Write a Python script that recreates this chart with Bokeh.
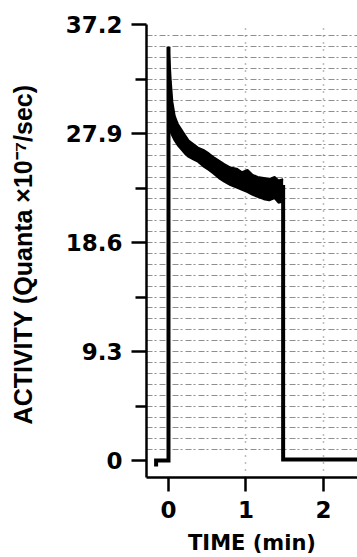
from bokeh.plotting import figure
from bokeh.models import FixedTicker, Range1d
from bokeh.embed import file_html
from bokeh.resources import INLINE

# ---- axis data ----
y_ticks = [0, 9.3, 18.6, 27.9, 37.2]
y_tick_labels = ["0", "9.3", "18.6", "27.9", "37.2"]
y_minor_ticks = [4.65, 13.95, 23.25, 32.55]
x_ticks = [0, 1, 2]
grid_step = 0.93
grid_count = 39
x_grid_ticks = [1, 2]

# ---- trace data (TIME in min, ACTIVITY) ----
pre_t = [-0.16, -0.16, 0.0, 0.0]
pre_v = [-0.5, 0.0, 0.0, 35.3]

band_t = [0.000, 0.015, 0.03, 0.05, 0.08, 0.12, 0.16, 0.21, 0.26, 0.32, 0.38,
          0.45, 0.52, 0.58, 0.65, 0.72, 0.80, 0.88, 0.95, 1.02, 1.08, 1.15,
          1.23, 1.30, 1.37, 1.42, 1.48]
band_upper = [35.3, 34.0, 32.3, 30.6, 29.4, 28.7, 28.3, 27.8, 27.3, 27.0, 26.7,
              26.5, 26.2, 25.9, 25.6, 25.3, 25.0, 24.9, 24.6, 24.8, 24.4, 24.2,
              24.1, 24.0, 24.2, 23.9, 24.0]
band_lower = [28.5, 28.3, 28.0, 27.7, 27.3, 26.9, 26.6, 26.2, 25.9, 25.7, 25.5,
              25.1, 24.8, 24.5, 24.1, 23.8, 23.5, 23.3, 23.1, 22.9, 22.7, 22.5,
              22.3, 22.2, 22.4, 22.0, 22.1]

post_t = [1.48, 1.48, 2.6]
post_v = [23.5, 0.1, 0.1]

y_lo, y_hi = -1.44, 37.2
x_lo, x_hi = -0.284, 2.44

p = figure(width=357, height=557, output_backend="svg", toolbar_location=None,
           x_range=Range1d(x_lo, x_hi), y_range=Range1d(y_lo, y_hi),
           min_border_left=146, min_border_right=0, min_border_top=24,
           min_border_bottom=78)
p.outline_line_color = None
p.background_fill_color = "white"
p.border_fill_color = "white"

# grid (recorder paper lines)
p.ygrid.ticker = FixedTicker(ticks=[round(k * grid_step, 2) for k in range(1, grid_count + 1)])
p.ygrid.grid_line_color = "#333333"
p.ygrid.grid_line_alpha = 0.55
p.ygrid.grid_line_dash = "6 2 2 3"
p.ygrid.grid_line_width = 1
p.xgrid.ticker = FixedTicker(ticks=x_grid_ticks)
p.xgrid.grid_line_color = "#222222"
p.xgrid.grid_line_alpha = 0.6
p.xgrid.grid_line_dash = "1 6"
p.xgrid.grid_line_width = 1.5

# trace
p.varea(x=band_t, y1=band_lower, y2=band_upper, fill_color="black")
p.line(band_t, band_upper, line_color="black", line_width=2)
p.line(band_t, band_lower, line_color="black", line_width=2)
p.line(pre_t, pre_v, line_color="black", line_width=4, line_join="miter")
p.line(post_t, post_v, line_color="black", line_width=4, line_join="miter")

# y axis
ya = p.yaxis[0]
ya.ticker = FixedTicker(ticks=y_ticks, minor_ticks=y_minor_ticks)
ya.major_label_overrides = {t: s for t, s in zip(y_ticks, y_tick_labels)}
ya.axis_line_width = 2.5
ya.major_tick_line_width = 2.5
ya.minor_tick_line_width = 2.5
ya.major_tick_in = 0
ya.major_tick_out = 15
ya.minor_tick_in = 0
ya.minor_tick_out = 11
ya.major_label_standoff = 9
ya.major_label_text_font = "DejaVu Sans"
ya.major_label_text_font_style = "bold"
ya.major_label_text_font_size = "23px"
ya.major_label_text_color = "black"
ya.axis_label = "ACTIVITY  (Quanta ×10⁻⁷/sec)"
ya.axis_label_text_font = "Liberation Sans"
ya.axis_label_text_font_style = "bold"
ya.axis_label_text_font_size = "25px"
ya.axis_label_text_color = "black"
ya.axis_label_standoff = 26

# x axis
xa = p.xaxis[0]
xa.ticker = FixedTicker(ticks=x_ticks, minor_ticks=[])
xa.axis_line_width = 2.5
xa.major_tick_line_width = 2.5
xa.major_tick_in = 0
xa.major_tick_out = 14
xa.minor_tick_out = 0
xa.major_label_standoff = 9
xa.major_label_text_font = "DejaVu Sans"
xa.major_label_text_font_style = "bold"
xa.major_label_text_font_size = "23px"
xa.major_label_text_color = "black"
xa.axis_label = "TIME (min)"
xa.axis_label_text_font = "DejaVu Sans"
xa.axis_label_text_font_style = "bold"
xa.axis_label_text_font_size = "21px"
xa.axis_label_text_color = "black"
xa.axis_label_standoff = 10

open("out.html", "w").write(file_html(p, INLINE))
